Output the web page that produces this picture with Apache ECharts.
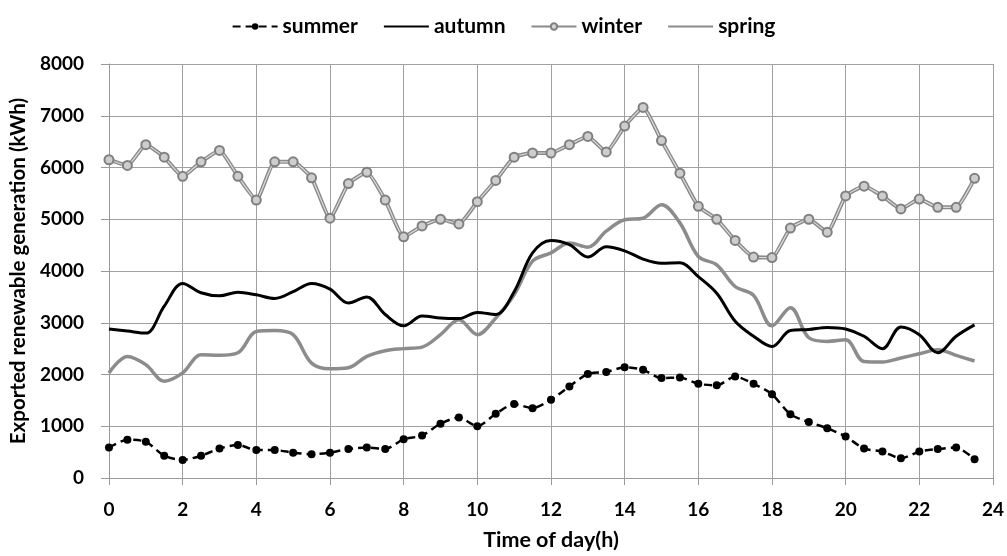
<!DOCTYPE html>
<html>
<head>
<meta charset="utf-8">
<script src="https://cdn.jsdelivr.net/npm/echarts@6/dist/echarts.min.js"></script>
<style>html,body{margin:0;padding:0;background:#fff}#c{width:1007px;height:556px}</style>
</head>
<body>
<div id="c"></div>
<script>
const hours = [0,0.5,1,1.5,2,2.5,3,3.5,4,4.5,5,5.5,6,6.5,7,7.5,8,8.5,9,9.5,10,10.5,11,11.5,12,12.5,13,13.5,14,14.5,15,15.5,16,16.5,17,17.5,18,18.5,19,19.5,20,20.5,21,21.5,22,22.5,23,23.5];
const summer = [590,740,700,430,350,430,570,640,540,540,490,460,490,560,590,560,750,820,1050,1170,1000,1240,1430,1350,1510,1770,2010,2050,2140,2090,1930,1940,1820,1790,1960,1820,1620,1230,1080,960,800,570,510,380,510,560,590,360];
const autumn = [2880,2840,2800,3320,3760,3580,3520,3590,3540,3470,3600,3760,3650,3380,3500,3160,2940,3130,3090,3080,3200,3160,3600,4350,4590,4510,4270,4470,4390,4230,4150,4160,3890,3570,3030,2740,2540,2850,2870,2910,2880,2740,2500,2920,2770,2420,2740,2960];
const winter = [6150,6040,6440,6200,5830,6110,6330,5830,5370,6110,6110,5800,5020,5690,5910,5370,4660,4870,5000,4910,5340,5750,6200,6280,6280,6440,6600,6300,6800,7160,6520,5890,5250,5000,4590,4270,4260,4830,5000,4750,5450,5640,5450,5200,5390,5230,5230,5790];
const spring = [2030,2350,2190,1870,2030,2380,2370,2420,2830,2850,2770,2220,2110,2130,2350,2460,2500,2530,2770,3060,2770,3090,3540,4190,4350,4540,4460,4770,4990,5020,5280,4930,4280,4120,3700,3530,2940,3290,2710,2640,2670,2250,2240,2320,2400,2480,2370,2260];
const xTicks = [0,2,4,6,8,10,12,14,16,18,20,22,24];
const yTicks = [0,1000,2000,3000,4000,5000,6000,7000,8000];
const seriesNames = ['summer','autumn','winter','spring'];

const pair = arr => hours.map((h,i)=>[h,arr[i]]);
const font = 'Lato, "Open Sans", sans-serif';
const chart = echarts.init(document.getElementById('c'));
chart.setOption({
  animation:false,
  textStyle:{fontFamily:font},
  legend:{
    top:11, left:'center', itemWidth:45, itemHeight:8, itemGap:25,
    textStyle:{fontFamily:font,fontWeight:'bold',fontSize:21,color:'#000'},
    data:[
      {name:seriesNames[0]},
      {name:seriesNames[1],itemStyle:{opacity:0}},
      {name:seriesNames[2]},
      {name:seriesNames[3],itemStyle:{opacity:0}}
    ]
  },
  grid:{left:108,right:14,top:64,bottom:77.5},
  xAxis:{
    type:'value', min:0, max:24, interval:2,
    name:'Time of day(h)', nameLocation:'middle', nameGap:51,
    nameTextStyle:{fontFamily:font,fontWeight:'bold',fontSize:21.5,color:'#000'},
    axisLine:{lineStyle:{color:'#999'}},
    axisTick:{show:true,length:7,lineStyle:{color:'#999'}},
    axisLabel:{fontFamily:font,fontWeight:'bold',fontSize:19,color:'#000',margin:22,
      formatter:v=>xTicks.includes(v)?String(v):''},
    splitLine:{show:true,lineStyle:{color:'#a0a0a0',width:1}}
  },
  yAxis:{
    type:'value', min:0, max:8000, interval:1000,
    name:'Exported renewable generation (kWh)', nameLocation:'middle', nameGap:78,
    nameTextStyle:{fontFamily:font,fontWeight:'bold',fontSize:20.5,color:'#000'},
    axisLine:{show:true,lineStyle:{color:'#999'}},
    axisTick:{show:true,length:8,lineStyle:{color:'#999'}},
    axisLabel:{fontFamily:font,fontWeight:'bold',fontSize:19,color:'#000',margin:25,
      formatter:v=>yTicks.includes(v)?String(v):''},
    splitLine:{show:true,lineStyle:{color:'#a0a0a0',width:1}}
  },
  series:[
    {name:seriesNames[0],type:'line',data:pair(summer),smooth:0.25,
     symbol:'circle',symbolSize:8,itemStyle:{color:'#000'},
     lineStyle:{color:'#000',width:2.5,type:[8,5]},z:6},
    {name:seriesNames[1],type:'line',data:pair(autumn),smooth:0.35,symbol:'none',
     itemStyle:{color:'#000'},lineStyle:{color:'#000',width:3},z:5},
    {name:seriesNames[2],type:'line',data:pair(winter),smooth:0.15,
     symbol:'circle',symbolSize:7,
     itemStyle:{color:'#d4d4d4',borderColor:'#7f7f7f',borderWidth:1.5},
     lineStyle:{color:'#8a8a8a',width:4},z:3},
    {name:seriesNames[2],type:'line',data:pair(winter),smooth:0.15,
     symbol:'circle',symbolSize:9,
     itemStyle:{color:'#cdcdcd',borderColor:'#808080',borderWidth:2},
     lineStyle:{color:'#dcdcdc',width:1.2},z:4},
    {name:seriesNames[3],type:'line',data:pair(spring),smooth:0.35,symbol:'none',
     itemStyle:{color:'#8c8c8c'},lineStyle:{color:'#8c8c8c',width:3.5},z:2}
  ]
});
</script>
</body>
</html>
